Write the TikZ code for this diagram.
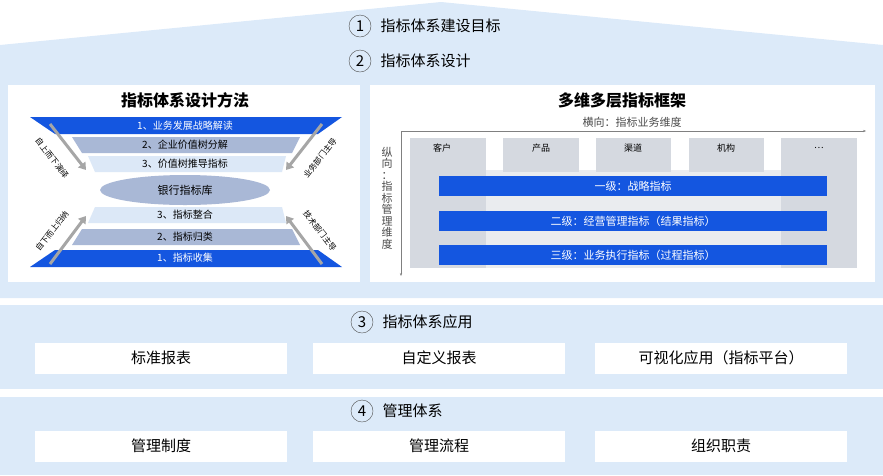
\documentclass[tikz,border=0pt]{standalone}
\usepackage{fontspec}
\setmainfont{Noto Sans CJK SC}
\usetikzlibrary{positioning,arrows.meta,shapes.geometric}
\definecolor{bgblue}{HTML}{DCEAF9}
\definecolor{barblue}{HTML}{1456E0}
\definecolor{midband}{HTML}{A9B8D6}
\definecolor{lightband}{HTML}{DCE8F7}
\definecolor{colgray}{HTML}{D5D9E0}
\tikzset{
	num/.style={circle,draw=black!70,inner sep=1pt,minimum size=22pt,font=\fontsize{15}{15}\selectfont},
	head/.style={font=\fontsize{15}{15}\selectfont,anchor=west},
	wbox/.style={fill=white,minimum width=252pt,minimum height=31pt,font=\fontsize{15}{15}\selectfont},
	band/.style={font=\fontsize{10}{10}\selectfont},
	col/.style={font=\fontsize{9}{9}\selectfont,inner sep=0pt},
	bar/.style={fill=barblue,text=white,minimum width=388pt,minimum height=20pt,font=\fontsize{11}{11}\selectfont},
	garrow/.style={draw=gray!70,line width=3pt,-{Triangle[length=7pt,width=9pt]}},
	side/.style={font=\fontsize{8}{8}\selectfont,inner sep=1pt}
}
\begin{document}
\begin{tikzpicture}[x=1pt,y=-1pt]
	\useasboundingbox (0,0) rectangle (883,475);
	% roof and sections
	\fill[bgblue] (0,45) -- (441,2) -- (883,45) -- (883,298) -- (0,298) -- cycle;
	\fill[bgblue] (0,305) rectangle (883,389);
	\fill[bgblue] (0,397) rectangle (883,475);
	\node[num] (n1) at (360,26) {1};
	\node[head,right=6pt of n1] (t1) {指标体系建设目标};
	\node[num] (n2) at (360,61) {2};
	\node[head,right=6pt of n2] (t2) {指标体系设计};
	% left panel
	\fill[white] (8,85) rectangle (360,282);
	\node[font=\fontsize{16}{16}\selectfont\bfseries] (lt) at (185,100) {指标体系设计方法};
	\fill[barblue] (30,117) -- (342,117) -- (318,134) -- (55,134) -- cycle;
	\fill[midband] (72,137) -- (300,137) -- (292,153) -- (82,153) -- cycle;
	\fill[lightband] (88,156) -- (286,156) -- (282,172) -- (95,172) -- cycle;
	\fill[lightband] (95,207) -- (282,207) -- (286,223) -- (88,223) -- cycle;
	\fill[midband] (82,229) -- (292,229) -- (300,245) -- (72,245) -- cycle;
	\fill[barblue] (55,250) -- (318,250) -- (342,267) -- (30,267) -- cycle;
	\node[band,text=white] (b1) at (185,126) {1、业务发展战略解读};
	\node[band] (b2) at (185,145) {2、企业价值树分解};
	\node[band] (b3) at (185,164) {3、价值树推导指标};
	\node[ellipse,fill=midband,minimum width=170pt,minimum height=30pt,font=\fontsize{11}{11}\selectfont] (lib) at (185,190) {银行指标库};
	\node[band] (c3) at (185,215) {3、指标整合};
	\node[band] (c2) at (185,237) {2、指标归类};
	\node[band,text=white] (c1) at (185,258) {1、指标收集};
	\coordinate (lt1) at (50,124); \coordinate (lt2) at (86,170);
	\coordinate (rt1) at (322,124); \coordinate (rt2) at (286,170);
	\coordinate (lb1) at (50,264); \coordinate (lb2) at (86,216);
	\coordinate (rb1) at (286,216); \coordinate (rb2) at (322,264);
	\draw[garrow] (lt1) -- (lt2);
	\draw[garrow] (rt1) -- (rt2);
	\draw[garrow] (lb1) -- (lb2);
	\draw[garrow] (rb2) -- (rb1);
	\node[side,rotate=-52] (s1) at (52,158) {自上而下演绎};
	\node[side,rotate=52] (s2) at (320,158) {业务部门主导};
	\node[side,rotate=52] (s3) at (52,231) {自下而上归纳};
	\node[side,rotate=-52] (s4) at (320,231) {技术部门主导};
	% right panel
	\fill[white] (370,85) rectangle (875,282);
	\node[font=\fontsize{16}{16}\selectfont\bfseries] (rtitle) at (622,100) {多维多层指标框架};
	\node[font=\fontsize{11}{11}\selectfont,text=black!70] (hx) at (632,122) {横向：指标业务维度};
	\coordinate (o) at (401,131);
	\coordinate (xe) at (866,131);
	\coordinate (ye) at (401,276);
	\draw[black!50,-{Stealth[length=3pt]}] (o) -- (xe);
	\draw[black!50,-{Stealth[length=3pt]}] (o) -- (ye);
	\node[font=\fontsize{11}{11.5}\selectfont,text=black!70,align=center,inner sep=0pt] (vx) at (387,198) {纵\\向\\：\\指\\标\\管\\理\\维\\度};
	\fill[colgray!50] (410,170) -- (857,170) -- (857,268) -- (410,268) -- cycle;
	\fill[colgray] (410,138) rectangle (486,268);
	\fill[colgray] (781,138) rectangle (857,268);
	\fill[colgray] (503,138) rectangle (579,172);
	\fill[colgray] (596,138) rectangle (671,172);
	\fill[colgray] (689,138) rectangle (764,172);
	\node[col] (k1) at (442,148) {客户};
	\node[col] (k2) at (541,148) {产品};
	\node[col] (k3) at (633,148) {渠道};
	\node[col] (k4) at (726,148) {机构};
	\node[col] (k5) at (819,148) {…};
	\node[bar] (l1) at (633,186) {一级：战略指标};
	\node[bar] (l2) at (633,221) {二级：经营管理指标（结果指标）};
	\node[bar] (l3) at (633,255) {三级：业务执行指标（过程指标）};
	% application
	\node[num] (n3) at (362,322) {3};
	\node[head,right=6pt of n3] (t3) {指标体系应用};
	\node[wbox] (a1) at (161,358) {标准报表};
	\node[wbox] (a2) at (439,358) {自定义报表};
	\node[wbox] (a3) at (721,358) {可视化应用（指标平台）};
	% management
	\node[num] (n4) at (362,411) {4};
	\node[head,right=6pt of n4] (t4) {管理体系};
	\node[wbox] (m1) at (161,446) {管理制度};
	\node[wbox] (m2) at (439,446) {管理流程};
	\node[wbox] (m3) at (721,446) {组织职责};
\end{tikzpicture}
\end{document}
